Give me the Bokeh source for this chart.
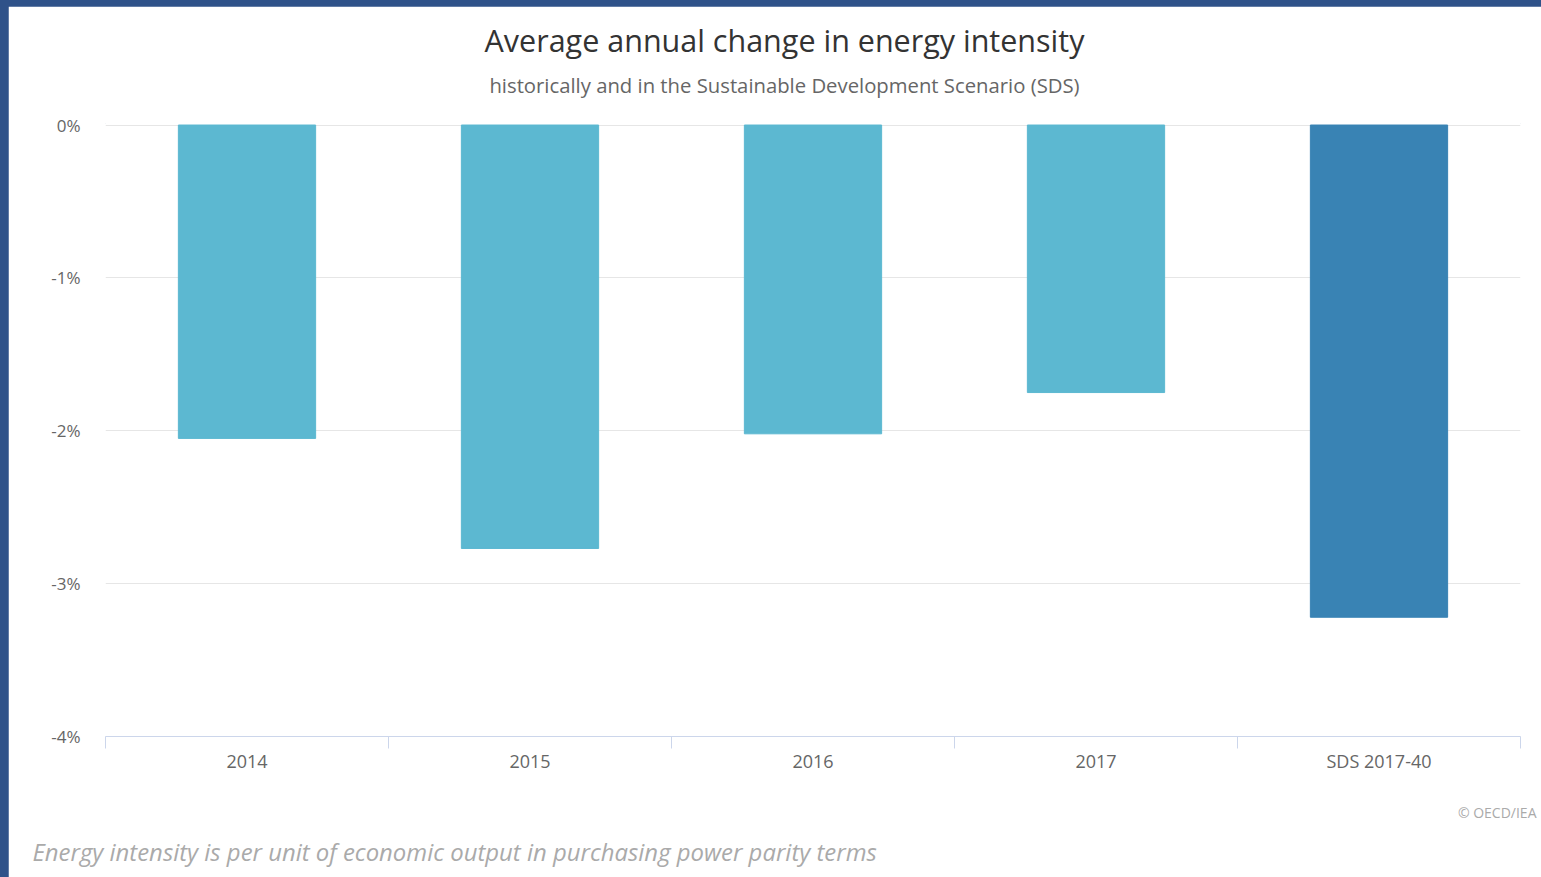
from bokeh.plotting import figure
from bokeh.models import Range1d, FixedTicker, Column
from bokeh.core.properties import value
from bokeh.embed import file_html
from bokeh.resources import INLINE

# Average annual change in energy intensity (%)
categories = ["2014", "2015", "2016", "2017", "SDS 2017-40"]
values = [-2.05, -2.77, -2.02, -1.75, -3.22]
bar_colors = ["#5cb8d1", "#5cb8d1", "#5cb8d1", "#5cb8d1", "#3983b4"]
y_ticks = [-4, -3, -2, -1, 0]
y_tick_labels = ["-4%", "-3%", "-2%", "-1%", "0%"]

FONT = "Open Sans"
FRAME_W, FRAME_H = 1415, 612

p = figure(
    width=1533, height=871,
    x_range=Range1d(0, len(categories)),
    y_range=Range1d(-4.0, 0.01),
    output_backend="svg", toolbar_location=None,
    min_border_left=97, min_border_right=21, min_border_top=117, min_border_bottom=141,
)
# frame edge blends into the white page
p.outline_line_color = "white"
p.outline_line_width = 1
p.background_fill_color = "white"
p.border_fill_color = "white"

# pixel ranges over the plot frame, used to place titles and notes
p.extra_x_ranges = {"px": Range1d(0, FRAME_W)}
p.extra_y_ranges = {"px": Range1d(0, FRAME_H)}

xs = [i + 0.5 for i in range(len(categories))]
p.vbar(x=xs, top=[0] * len(values), bottom=values, width=0.485,
       fill_color=bar_colors, line_color=bar_colors, line_width=1)

# y axis: percentages, gridlines only
p.yaxis.ticker = FixedTicker(ticks=y_ticks)
p.yaxis.major_label_overrides = {t: l for t, l in zip(y_ticks, y_tick_labels)}
p.yaxis.axis_line_color = None
p.yaxis.major_tick_line_color = None
p.yaxis.minor_tick_line_color = None
p.yaxis.major_label_text_font = FONT
p.yaxis.major_label_text_font_size = "17px"
p.yaxis.major_label_text_color = "#666666"
p.yaxis.major_label_standoff = 19
p.ygrid.ticker = FixedTicker(ticks=y_ticks)
p.ygrid.grid_line_color = "#e6e6e6"
p.xgrid.grid_line_color = None

# x axis: category labels centred, tick marks on category boundaries
p.xaxis.ticker = FixedTicker(ticks=xs, minor_ticks=list(range(len(categories) + 1)))
p.xaxis.major_label_overrides = {x: c for x, c in zip(xs, categories)}
p.xaxis.axis_line_color = "#ccd6eb"
p.xaxis.major_tick_line_color = None
p.xaxis.major_tick_out = 0
p.xaxis.major_tick_in = 0
p.xaxis.minor_tick_line_color = "#ccd6eb"
p.xaxis.minor_tick_out = 12
p.xaxis.minor_tick_in = 0
p.xaxis.major_label_text_font = FONT
p.xaxis.major_label_text_font_size = "18px"
p.xaxis.major_label_text_color = "#666666"
p.xaxis.major_label_standoff = 0

# titles and notes
texts = [
    dict(text="Average annual change in energy intensity", x=679, y=695,
         size="30.5px", color="#333333", align="center", style="normal"),
    dict(text="historically and in the Sustainable Development Scenario (SDS)", x=679, y=650,
         size="20.3px", color="#666666", align="center", style="normal"),
    dict(text="\u00a9 OECD/IEA", x=1431, y=-76,
         size="14px", color="#aaaaaa", align="right", style="normal"),
    dict(text="Energy intensity is per unit of economic output in purchasing power parity terms",
         x=-73, y=-115, size="23.9px", color="#aaaaaa", align="left", style="italic"),
]
for t in texts:
    p.text(x=[t["x"]], y=[t["y"]], text=[t["text"]], x_range_name="px", y_range_name="px",
           text_font=value(FONT), text_font_size=value(t["size"]), text_color=t["color"],
           text_align=t["align"], text_baseline="middle", text_font_style=t["style"],
           level="overlay")

page = Column(children=[p], styles={"background-color": "#2f5289", "padding": "6px 0 0 8px"})

open("out.html", "w").write(file_html(page, INLINE))
